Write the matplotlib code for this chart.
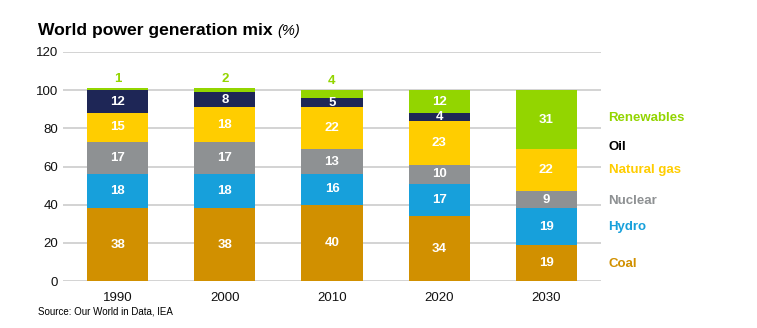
import numpy as np
import matplotlib.pyplot as plt

# --- data ---
years = ["1990", "2000", "2010", "2020", "2030"]
coal = [38, 38, 40, 34, 19]
hydro = [18, 18, 16, 17, 19]
nuclear = [17, 17, 13, 10, 9]
gas = [15, 18, 22, 23, 22]
oil = [12, 8, 5, 4, 0]
renewables = [1, 2, 4, 12, 31]

names = ["Coal", "Hydro", "Nuclear", "Natural gas", "Oil", "Renewables"]
series = [coal, hydro, nuclear, gas, oil, renewables]
colors = ["#D19000", "#17A0DB", "#8E9193", "#FFCD00", "#1E2656", "#93D500"]
label_colors = ["#D19000", "#17A0DB", "#8E9193", "#FFCD00", "#000000", "#93D500"]
label_y = [9, 28.5, 42, 58, 70, 85.5]  # right-hand legend positions (data units)

plt.rcParams['font.family'] = ['Liberation Sans', 'DejaVu Sans']

fig = plt.figure(figsize=(7.57, 3.28), dpi=100)
ax = fig.add_axes([63 / 757, 1 - 281 / 328, 538 / 757, 229 / 328])

x = np.arange(len(years))
bottom = np.zeros(len(years))
width = 0.57
for name, vals, col in zip(names, series, colors):
    vals = np.array(vals, dtype=float)
    ax.bar(x, vals, width, bottom=bottom, color=col, zorder=3)
    for xi, b, v in zip(x, bottom, vals):
        if v == 0:
            continue
        if name == "Renewables" and v < 10:
            ax.text(xi, b + v + 1.5, f"{int(v)}", ha="center", va="bottom",
                    color=col, fontsize=9.5, fontweight="bold", zorder=4)
        else:
            ax.text(xi, b + v / 2, f"{int(v)}", ha="center", va="center",
                    color="white", fontsize=9.5, fontweight="bold", zorder=4)
    bottom += vals

ax.set_xlim(-0.51, 4.51)
ax.set_ylim(0, 120)
ax.set_yticks(range(0, 121, 20))
ax.set_xticks(x)
ax.set_xticklabels(years)
ax.yaxis.grid(True, color="#cccccc", linewidth=1.2, zorder=0)
ax.tick_params(length=0, labelsize=9.5, colors="#111111")
ax.tick_params(axis="x", pad=8)
for s in ax.spines.values():
    s.set_visible(False)

# legend as coloured labels on the right
for name, col, yy in zip(names, label_colors, label_y):
    ax.text(4.58, yy, name, color=col, fontsize=9.5, fontweight="bold",
            va="center", ha="left", clip_on=False)

title = fig.text(38 / 757, 1 - 30 / 328, "World power generation mix", fontsize=12.6,
                 fontweight="bold", va="center", ha="left")
fig.canvas.draw()
bb = title.get_window_extent().transformed(fig.transFigure.inverted())
fig.text(bb.x1 + 5 / 757, 1 - 31 / 328, "(%)", fontsize=10.5, style="italic",
         va="center", ha="left")
fig.text(38 / 757, 1 - 312 / 328, "Source: Our World in Data, IEA", fontsize=7,
         va="center", ha="left")

fig.savefig("out.png", dpi=100)
